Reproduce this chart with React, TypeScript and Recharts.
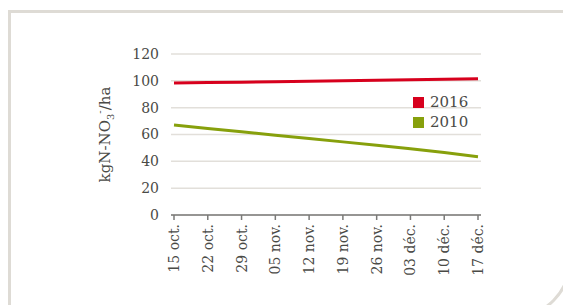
import { LineChart, Line, XAxis, YAxis, CartesianGrid } from "recharts";

const dates = [
  "15 oct.",
  "22 oct.",
  "29 oct.",
  "05 nov.",
  "12 nov.",
  "19 nov.",
  "26 nov.",
  "03 déc.",
  "10 déc.",
  "17 déc.",
];
const values2016 = [98.3, 98.7, 99, 99.4, 99.7, 100.1, 100.4, 100.8, 101.1, 101.5];
const values2010 = [67, 64.5, 62, 59.5, 57, 54.5, 52, 49.3, 46.5, 43.5];
const yTicks = [0, 20, 40, 60, 80, 100, 120];
const seriesNames = ["2016", "2010"];

const RED = "#d7001d";
const GREEN = "#87a00c";
const FONT = "'DejaVu Serif', serif";
const TEXT = "#4a4a46";

const data = dates.map((d, i) => ({
  date: d,
  y2016: values2016[i],
  y2010: values2010[i],
}));

function DateTick(props: any) {
  const { x, y, payload } = props;
  return (
    <text
      x={x}
      y={y}
      transform={`rotate(-90 ${x} ${y})`}
      dx={-2}
      dy="0.36em"
      textAnchor="end"
      fill={TEXT}
      fontSize={14}
      fontFamily={FONT}
    >
      {payload.value}
    </text>
  );
}

function UnitLabel(props: any) {
  const vb = props.viewBox || { x: 0, y: 0, height: 0 };
  const cx = vb.x - 1;
  const cy = vb.y + vb.height / 2;
  return (
    <text
      x={cx}
      y={cy}
      transform={`rotate(-90 ${cx} ${cy})`}
      textAnchor="middle"
      fill={TEXT}
      fontSize={15}
      fontFamily={FONT}
    >
      kgN-NO
      <tspan fontSize={10} dy={4}>3</tspan>
      <tspan fontSize={10} dy={-11}>-</tspan>
      <tspan dy={7}>/ha</tspan>
    </text>
  );
}

function LegendBox() {
  const colors = [RED, GREEN];
  return (
    <div style={{ position: "absolute", left: 413, top: 92 }}>
      {seriesNames.map((name, i) => (
        <div
          key={name}
          style={{ display: "flex", alignItems: "center", height: 20 }}
        >
          <span
            style={{
              width: 11,
              height: 11,
              background: colors[i],
              display: "inline-block",
              marginRight: 6,
            }}
          />
          <span style={{ fontFamily: FONT, fontSize: 15, color: TEXT }}>
            {name}
          </span>
        </div>
      ))}
    </div>
  );
}

export default function App() {
  return (
    <div
      style={{
        position: "absolute",
        left: 0,
        top: 0,
        width: 563,
        height: 305,
        overflow: "hidden",
        background: "#fff",
      }}
    >
      <div
        style={{
          position: "absolute",
          left: 8,
          top: 10,
          width: 557,
          height: 302,
          border: "3px solid #dedbd5",
          borderBottomRightRadius: 56,
        }}
      />
      <div style={{ position: "absolute", left: 0, top: 0 }}>
        <LineChart
          width={563}
          height={305}
          data={data}
          margin={{ top: 54, right: 82, bottom: 0, left: 111 }}
        >
          <CartesianGrid
            vertical={false}
            stroke="#e2dfda"
            strokeWidth={1.5}
          />
          <XAxis
            dataKey="date"
            interval={0}
            padding={{ left: 3, right: 3 }}
            axisLine={{ stroke: "#7a7a78", strokeWidth: 1.5 }}
            tickLine={{ stroke: "#7a7a78", strokeWidth: 1.5 }}
            tickSize={5}
            tick={<DateTick />}
            height={90}
          />
          <YAxis
            domain={[0, 120]}
            ticks={yTicks}
            width={60}
            axisLine={false}
            tickLine={false}
            tickMargin={6}
            tick={{ fill: TEXT, fontSize: 14, fontFamily: FONT }}
            label={{ content: <UnitLabel /> }}
          />
          <Line
            dataKey="y2016"
            stroke={RED}
            strokeWidth={3}
            dot={false}
            isAnimationActive={false}
          />
          <Line
            dataKey="y2010"
            stroke={GREEN}
            strokeWidth={3}
            dot={false}
            isAnimationActive={false}
          />
        </LineChart>
      </div>
      <LegendBox />
    </div>
  );
}
